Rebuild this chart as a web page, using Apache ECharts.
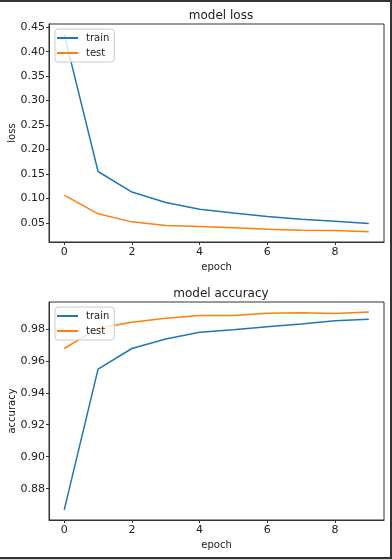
<!DOCTYPE html>
<html>
<head>
<meta charset="utf-8">
<script src="https://cdn.jsdelivr.net/npm/echarts@6/dist/echarts.min.js"></script>
<style>
html,body{margin:0;padding:0;background:#fff;}
#wrap{position:relative;width:392px;height:559px;overflow:hidden;}
#chart{position:absolute;left:0;top:0;width:392px;height:559px;}
.bd{position:absolute;background:#333;}
</style>
</head>
<body>
<div id="wrap">
<div id="chart"></div>
<div class="bd" style="left:0;top:0;width:392px;height:2px;"></div>
<div class="bd" style="left:390px;top:0;width:2px;height:559px;"></div>
<div class="bd" style="left:0;top:557px;width:392px;height:2px;"></div>
</div>
<script>
const epochs = [0, 1, 2, 3, 4, 5, 6, 7, 8, 9];
const lossTrain = [0.436, 0.155, 0.113, 0.0915, 0.078, 0.070, 0.063, 0.0575, 0.053, 0.0486];
const lossTest = [0.1066, 0.0684, 0.052, 0.0445, 0.0425, 0.040, 0.037, 0.035, 0.0345, 0.032];
const accTrain = [0.8667, 0.9548, 0.9677, 0.9737, 0.9779, 0.9794, 0.9813, 0.983, 0.985, 0.986];
const accTest = [0.9677, 0.9804, 0.9842, 0.9867, 0.9884, 0.9884, 0.9898, 0.990, 0.9896, 0.9906];
const xTicks = [0, 2, 4, 6, 8];
const lossTicks = [0.05, 0.10, 0.15, 0.20, 0.25, 0.30, 0.35, 0.40, 0.45];
const accTicks = [0.88, 0.90, 0.92, 0.94, 0.96, 0.98];
const seriesNames = ['train', 'test'];
const titles = ['model loss', 'model accuracy'];
const yNames = ['loss', 'accuracy'];
const xName = 'epoch';

const FONT = 'DejaVu Sans';
const TXT = '#222';
const BLUE = '#1f77b4', ORANGE = '#ff7f0e';

const chart = echarts.init(document.getElementById('chart'), null, {renderer: 'canvas'});

function pairs(ys) { return epochs.map((e, i) => [e, ys[i]]); }

function xAxisCfg(gi) {
  return {
    type: 'value', gridIndex: gi, min: -0.45, max: 9.45,
    name: xName, nameLocation: 'middle', nameGap: 20, nameMoveOverlap: false,
    nameTextStyle: {fontFamily: FONT, fontSize: 10, color: TXT},
    axisLine: {show: true, onZero: false, lineStyle: {color: '#333', width: 1}},
    axisTick: {show: true, length: 3, customValues: xTicks, lineStyle: {color: '#333'}},
    axisLabel: {customValues: xTicks, margin: 5, fontFamily: FONT, fontSize: 11, color: TXT},
    splitLine: {show: false}
  };
}
function yAxisCfg(gi, min, max, ticks, name) {
  return {
    type: 'value', gridIndex: gi, min: min, max: max,
    name: name, nameLocation: 'middle', nameGap: 32, nameRotate: 90, nameMoveOverlap: false,
    nameTextStyle: {fontFamily: FONT, fontSize: 10, color: TXT},
    axisLine: {show: true, onZero: false, lineStyle: {color: '#333', width: 1}},
    axisTick: {show: true, length: 3, customValues: ticks, lineStyle: {color: '#333'}},
    axisLabel: {customValues: ticks, margin: 4, fontFamily: FONT, fontSize: 11, color: TXT,
      formatter: v => v.toFixed(2)},
    splitLine: {show: false}
  };
}
function lineSeries(name, data, color, xi) {
  return {
    type: 'line', name: name, xAxisIndex: xi, yAxisIndex: xi, data: pairs(data),
    showSymbol: false, symbol: 'none', smooth: false,
    lineStyle: {color: color, width: 1.5}, itemStyle: {color: color},
    animation: false, z: 3
  };
}
function legendCfg(top) {
  return {
    left: 55, top: top, orient: 'vertical',
    data: seriesNames.slice(),
    icon: 'rect', itemWidth: 21, itemHeight: 2, itemGap: 5,
    padding: [4, 5, 4, 2],
    backgroundColor: 'rgba(255,255,255,0.8)', borderColor: '#ccc', borderWidth: 1, borderRadius: 3,
    textStyle: {fontFamily: FONT, fontSize: 10, color: TXT, padding: [0, 0, 0, 3]},
    selectedMode: false
  };
}

const option = {
  animation: false,
  backgroundColor: 'transparent',
  title: [
    {text: titles[0], left: 216, top: 5, textAlign: 'center',
     textStyle: {fontFamily: FONT, fontSize: 12, fontWeight: 'normal', color: TXT}},
    {text: titles[1], left: 216, top: 283, textAlign: 'center',
     textStyle: {fontFamily: FONT, fontSize: 12, fontWeight: 'normal', color: TXT}}
  ],
  grid: [
    {left: 49, top: 24, width: 335, height: 218, show: true, borderColor: '#333', borderWidth: 1,
     containLabel: false, outerBoundsMode: 'none'},
    {left: 49, top: 302, width: 335, height: 218, show: true, borderColor: '#333', borderWidth: 1,
     containLabel: false, outerBoundsMode: 'none'}
  ],
  legend: [legendCfg(29), legendCfg(307)],
  xAxis: [xAxisCfg(0), xAxisCfg(1)],
  yAxis: [
    yAxisCfg(0, 0.0108, 0.4567, lossTicks, yNames[0]),
    yAxisCfg(1, 0.8604, 0.9968, accTicks, yNames[1])
  ],
  series: [
    lineSeries(seriesNames[0], lossTrain, BLUE, 0),
    lineSeries(seriesNames[1], lossTest, ORANGE, 0),
    lineSeries(seriesNames[0], accTrain, BLUE, 1),
    lineSeries(seriesNames[1], accTest, ORANGE, 1)
  ]
};
chart.setOption(option);
</script>
</body>
</html>
